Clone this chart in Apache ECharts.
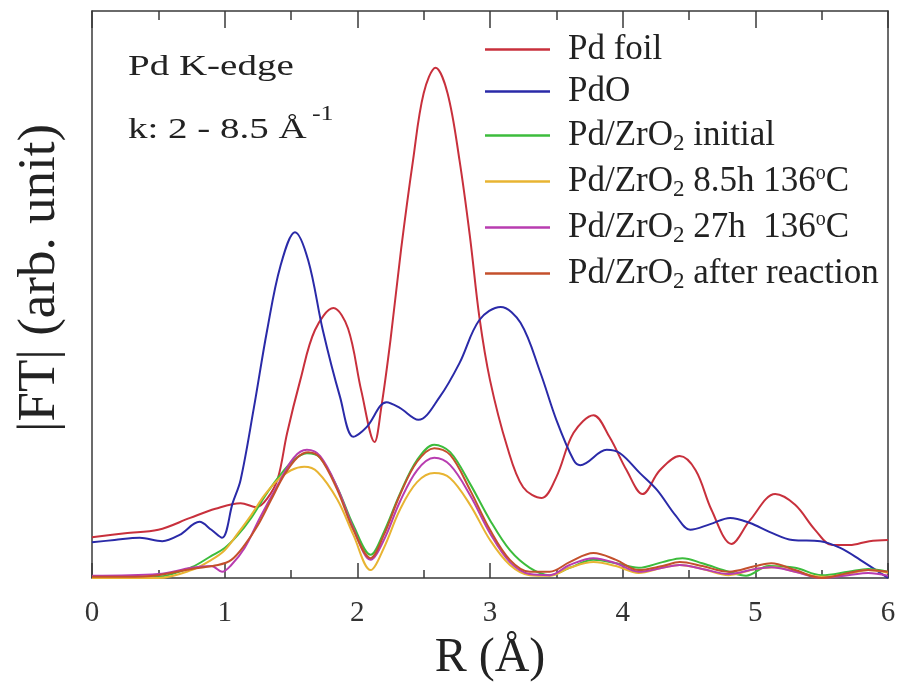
<!DOCTYPE html>
<html>
<head>
<meta charset="utf-8">
<script src="https://cdn.jsdelivr.net/npm/echarts@6/dist/echarts.min.js"></script>
<style>
  html, body { margin: 0; padding: 0; background: #fff; }
  #main { width: 899px; height: 684px; }
</style>
</head>
<body>
<div id="main"></div>
<script>
// R (Å) and |FT| values, arb. units (0..10)
var foilR = [0,0.25,0.5,0.74,0.93,1.12,1.24,1.32,1.40,1.47,1.57,1.68,1.82,1.93,2.03,2.13,2.18,2.25,2.33,2.42,2.50,2.59,2.68,2.77,2.85,2.92,3.0,3.13,3.25,3.39,3.5,3.63,3.78,3.9,4.03,4.15,4.28,4.43,4.55,4.67,4.82,4.96,5.15,5.30,5.45,5.58,5.71,5.86,6];
var foilY = [0.72,0.79,0.85,1.06,1.22,1.32,1.25,1.40,1.75,2.55,3.49,4.37,4.76,4.40,3.30,2.40,3.0,4.2,5.8,7.37,8.55,9.0,8.55,7.37,6.0,4.6,3.49,2.31,1.6,1.41,1.78,2.56,2.87,2.49,1.9,1.48,1.90,2.15,1.90,1.20,0.60,1.02,1.48,1.29,0.85,0.58,0.58,0.65,0.67];

var pdoR = [0,0.17,0.36,0.53,0.66,0.81,0.90,0.98,1.06,1.12,1.22,1.32,1.42,1.53,1.63,1.74,1.87,1.97,2.07,2.22,2.32,2.46,2.62,2.77,2.92,3.08,3.23,3.38,3.5,3.63,3.68,3.88,3.98,4.13,4.26,4.4,4.51,4.66,4.81,4.96,5.11,5.28,5.49,5.64,5.79,6];
var pdoY = [0.63,0.67,0.71,0.65,0.76,0.99,0.85,0.71,1.32,1.73,3.0,4.37,5.5,6.1,5.6,4.37,3.19,2.49,2.66,3.10,3.0,2.79,3.19,3.79,4.55,4.78,4.5,3.62,2.79,2.08,1.99,2.26,2.2,1.85,1.55,1.1,0.85,0.95,1.06,0.97,0.81,0.67,0.65,0.53,0.32,0];

var initR = [0,0.25,0.5,0.75,0.9,1.0,1.1,1.2,1.3,1.4,1.52,1.62,1.72,1.85,1.97,2.1,2.2,2.32,2.45,2.58,2.7,2.85,3.0,3.15,3.3,3.45,3.6,3.78,3.95,4.12,4.3,4.45,4.6,4.8,4.93,5.1,5.3,5.5,5.7,5.85,6];
var initY = [0,0,0.02,0.19,0.39,0.53,0.76,1.06,1.43,1.76,2.08,2.20,2.12,1.59,0.93,0.41,0.81,1.48,2.08,2.35,2.22,1.66,1.02,0.49,0.18,0.05,0.18,0.32,0.26,0.18,0.28,0.35,0.26,0.11,0.04,0.21,0.18,0.05,0.11,0.16,0.11];

var h85R = [0,0.5,0.75,0.9,1.0,1.1,1.2,1.3,1.4,1.5,1.6,1.7,1.85,1.97,2.1,2.2,2.32,2.45,2.58,2.7,2.85,3.0,3.15,3.3,3.45,3.6,3.78,3.95,4.12,4.3,4.43,4.6,4.8,5.0,5.15,5.3,5.5,5.7,5.85,6];
var h85Y = [0,0,0.14,0.32,0.49,0.79,1.11,1.46,1.73,1.90,1.96,1.87,1.38,0.76,0.14,0.53,1.20,1.69,1.85,1.76,1.29,0.67,0.23,0.05,0.04,0.18,0.28,0.21,0.09,0.18,0.23,0.16,0.05,0.16,0.19,0.11,0.02,0.07,0.14,0.09];

var h27R = [0,0.5,0.75,0.9,0.98,1.05,1.15,1.27,1.4,1.52,1.62,1.72,1.85,1.97,2.1,2.2,2.32,2.45,2.58,2.7,2.85,3.0,3.15,3.3,3.45,3.6,3.78,3.95,4.12,4.3,4.43,4.6,4.8,5.0,5.12,5.3,5.5,5.7,5.85,6];
var h27Y = [0.04,0.07,0.18,0.21,0.11,0.23,0.53,1.08,1.64,2.12,2.26,2.15,1.59,0.88,0.32,0.67,1.34,1.90,2.12,1.99,1.46,0.79,0.28,0.07,0.05,0.23,0.35,0.26,0.11,0.18,0.23,0.16,0.07,0.16,0.19,0.11,0,0.05,0.09,0.04];

var afterR = [0,0.25,0.5,0.75,0.95,1.05,1.15,1.25,1.35,1.45,1.55,1.63,1.72,1.85,1.97,2.1,2.2,2.32,2.45,2.58,2.7,2.85,3.0,3.15,3.3,3.45,3.6,3.78,3.95,4.12,4.3,4.43,4.6,4.8,5.0,5.12,5.3,5.5,5.7,5.85,6];
var afterY = [0.02,0.02,0.05,0.16,0.23,0.32,0.58,0.93,1.38,1.82,2.13,2.22,2.12,1.55,0.85,0.35,0.76,1.46,2.05,2.29,2.17,1.55,0.85,0.32,0.11,0.11,0.28,0.44,0.32,0.14,0.21,0.28,0.21,0.11,0.21,0.26,0.14,0,0.09,0.14,0.11];

var seriesNames = ['Pd foil','PdO','Pd/ZrO2 initial','Pd/ZrO2 8.5h 136ºC','Pd/ZrO2 27h  136ºC','Pd/ZrO2 after reaction'];
var seriesColors = ['#c8303c','#2a2aa8','#3cbc3c','#e8b432','#b83cb0','#c4502c'];
var xTicks = [0,1,2,3,4,5,6];

function pairs(xs, ys) {
    var res = [];
    for (var i = 0; i < xs.length; i++) {
        res.push([xs[i], ys[i]]);
    }
    return res;
}

var allData = [pairs(foilR,foilY), pairs(pdoR,pdoY), pairs(initR,initY), pairs(h85R,h85Y), pairs(h27R,h27Y), pairs(afterR,afterY)];

var font = 'Liberation Serif';
var axisColor = '#3a3a3a';
var textColor = '#222';

var series = [];
for (var i = 0; i < seriesNames.length; i++) {
    series.push({
        name: seriesNames[i],
        type: 'line',
        smooth: 0.35,
        symbol: 'none',
        data: allData[i],
        lineStyle: { color: seriesColors[i], width: 2 },
        itemStyle: { color: seriesColors[i] }
    });
}

var myChart = echarts.init(document.getElementById('main'));
myChart.setOption({
    animation: false,
    backgroundColor: '#fff',
    grid: { left: 92, right: 11, top: 11, bottom: 106, outerBoundsMode: 'none', containLabel: false },
    legend: {
        orient: 'vertical',
        left: 480,
        top: 27,
        icon: 'rect',
        itemWidth: 65,
        itemHeight: 2.5,
        itemGap: 7,
        data: seriesNames,
        formatter: function (name) {
            return name.replace('ZrO2', 'ZrO{sub|2}').replace('º', '{sup|o}');
        },
        textStyle: {
            fontFamily: font,
            fontSize: 35,
            color: textColor,
            lineHeight: 35,
            padding: [0, 0, 0, 13],
            rich: {
                sub: { fontFamily: font, fontSize: 23, color: textColor, lineHeight: 23, padding: [16, 0, 0, 0] },
                sup: { fontFamily: font, fontSize: 20, color: textColor, lineHeight: 20, padding: [0, 0, 16, 0] }
            }
        }
    },
    xAxis: [{
        type: 'value',
        min: 0,
        max: 6,
        interval: 1,
        position: 'bottom',
        name: 'R (Å)',
        nameLocation: 'middle',
        nameGap: 56,
        nameTextStyle: { fontFamily: font, fontSize: 48, color: textColor },
        axisLine: { onZero: false, lineStyle: { color: axisColor, width: 1.5 } },
        axisTick: { inside: true, length: 15, lineStyle: { color: axisColor, width: 1.5 } },
        minorTick: { show: true, splitNumber: 2, length: 8, lineStyle: { color: axisColor, width: 1.5 } },
        axisLabel: {
            fontFamily: font, fontSize: 29, color: '#333', margin: 21,
            formatter: function (v) { return xTicks.indexOf(v) >= 0 ? String(v) : ''; }
        },
        splitLine: { show: false }
    }, {
        type: 'value',
        min: 0,
        max: 6,
        interval: 1,
        position: 'top',
        axisLine: { onZero: false, lineStyle: { color: axisColor, width: 1.5 } },
        axisTick: { inside: true, length: 17, lineStyle: { color: axisColor, width: 1.5 } },
        minorTick: { show: true, splitNumber: 2, length: 9, lineStyle: { color: axisColor, width: 1.5 } },
        axisLabel: { show: false },
        splitLine: { show: false }
    }],
    yAxis: [{
        type: 'value',
        min: 0,
        max: 10,
        position: 'left',
        axisLine: { show: true, onZero: false, lineStyle: { color: axisColor, width: 1.5 } },
        axisTick: { show: false },
        axisLabel: { show: false },
        splitLine: { show: false }
    }, {
        type: 'value',
        min: 0,
        max: 10,
        position: 'right',
        axisLine: { show: true, onZero: false, lineStyle: { color: axisColor, width: 1.5 } },
        axisTick: { show: false },
        axisLabel: { show: false },
        splitLine: { show: false }
    }],
    graphic: [{
        type: 'text',
        x: 40,
        y: 278,
        rotation: Math.PI / 2,
        style: { text: '|FT| (arb. unit)', fontFamily: font, fontSize: 53, fill: textColor, align: 'center', verticalAlign: 'middle' }
    }, {
        type: 'text',
        x: 128,
        y: 52,
        scaleX: 1.3,
        style: { text: 'Pd K-edge', fontFamily: font, fontSize: 30, fill: textColor }
    }, {
        type: 'text',
        x: 128,
        y: 105,
        scaleX: 1.3,
        style: {
            text: 'k: 2 - 8.5 Å{sup|-1}',
            fontFamily: font, fontSize: 30, fill: textColor,
            rich: { sup: { fontFamily: font, fontSize: 20, fill: textColor, padding: [0, 0, 30, 4] } }
        }
    }],
    series: series
});
window.onresize = myChart.resize;
</script>
</body>
</html>
